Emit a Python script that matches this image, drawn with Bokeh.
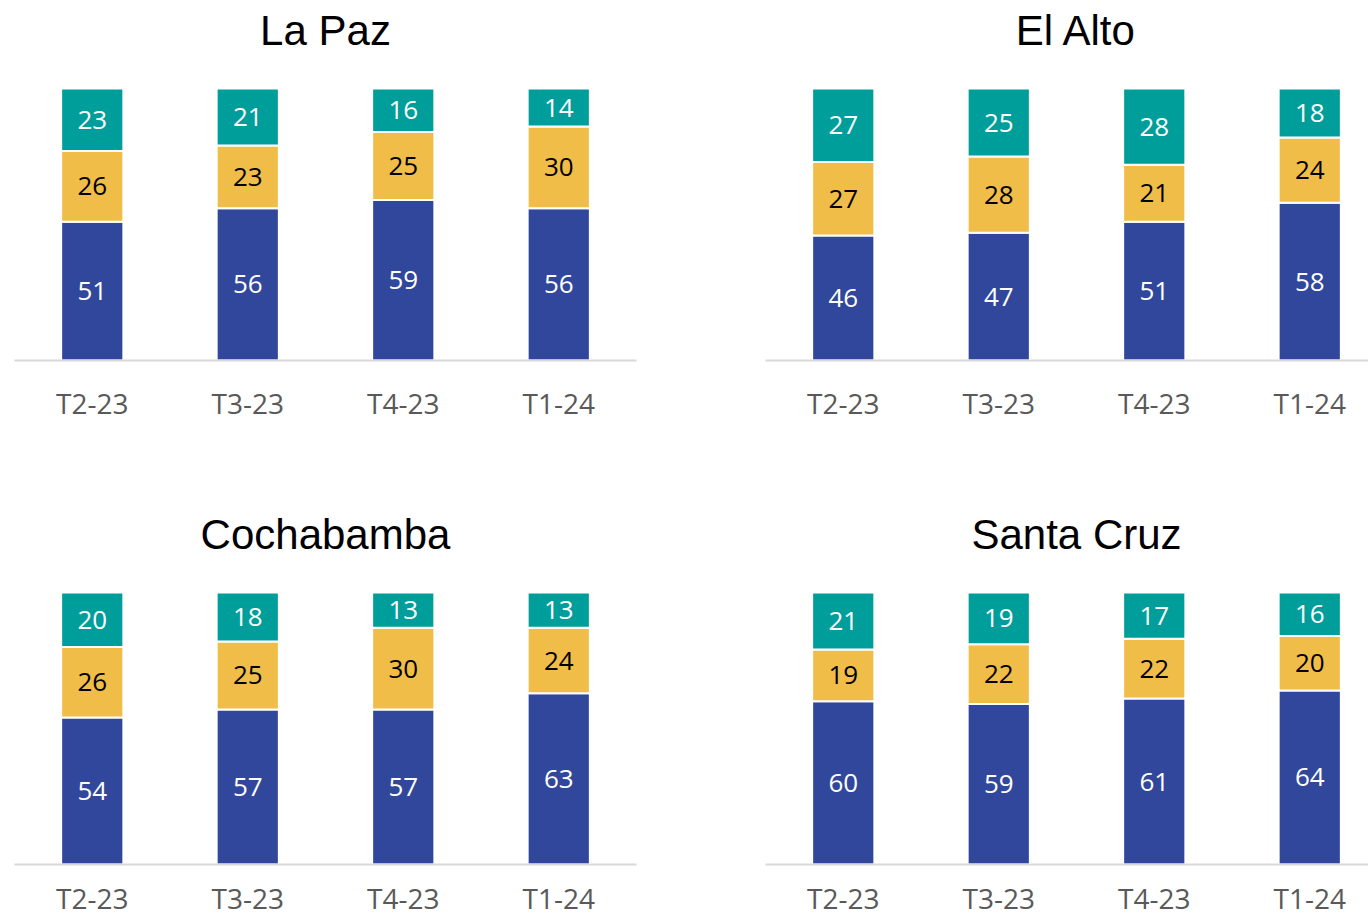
import numpy as np
from bokeh.plotting import figure
from bokeh.layouts import column, row
from bokeh.models import Range1d, ColumnDataSource, FixedTicker
from bokeh.core.properties import value
from bokeh.embed import file_html
from bokeh.resources import INLINE

periods = ["T2-23", "T3-23", "T4-23", "T1-24"]
cities = ["La Paz", "El Alto", "Cochabamba", "Santa Cruz"]

la_paz_blue = [51, 56, 59, 56]
la_paz_yellow = [26, 23, 25, 30]
la_paz_teal = [23, 21, 16, 14]

el_alto_blue = [46, 47, 51, 58]
el_alto_yellow = [27, 28, 21, 24]
el_alto_teal = [27, 25, 28, 18]

cochabamba_blue = [54, 57, 57, 63]
cochabamba_yellow = [26, 25, 30, 24]
cochabamba_teal = [20, 18, 13, 13]

santa_cruz_blue = [60, 59, 61, 64]
santa_cruz_yellow = [19, 22, 22, 20]
santa_cruz_teal = [21, 19, 17, 16]

BLUE = "#31479B"
YELLOW = "#F0BD48"
TEAL = "#009E9A"
PX_PER_CAT = 155.5
PX_PER_UNIT = 2.72
FRAME_H = 352


def make_panel(title, blue, yellow, teal, left_col, top_row):
    if left_col:
        width, bl, br = 688, 14, 52
    else:
        width, bl, br = 680, 77, 0
    frame_w = width - bl - br
    if top_row:
        height, bt, bb, standoff = 512, 8, 152, 23
    else:
        height, bt, bb, standoff = 407, 0, 55, 14
    x_end = -0.5 + frame_w / PX_PER_CAT
    y_end = FRAME_H / PX_PER_UNIT
    p = figure(width=width, height=height, output_backend="svg", toolbar_location=None,
               x_range=Range1d(-0.5, x_end), y_range=Range1d(0, y_end),
               min_border_left=bl, min_border_right=br, min_border_top=bt,
               min_border_bottom=bb, y_axis_location=None, tools="")
    p.outline_line_color = None
    p.grid.visible = False
    p.background_fill_color = "white"
    p.border_fill_color = "white"

    x = np.arange(len(periods))
    b = np.array(blue, dtype=float)
    yv = np.array(yellow, dtype=float)
    t = np.array(teal, dtype=float)
    segs = [
        (np.zeros_like(b), b, BLUE, "white", blue),
        (b, b + yv, YELLOW, "black", yellow),
        (b + yv, b + yv + t, TEAL, "white", teal),
    ]
    for bottom, top, col, tcol, vals in segs:
        src = ColumnDataSource(dict(x=x, bottom=bottom, top=top,
                                    mid=(bottom + top) / 2,
                                    lab=[str(v) for v in vals]))
        p.vbar(x="x", bottom="bottom", top="top", width=0.4, source=src,
               fill_color=col, line_color="white", line_width=2)
        p.text(x="x", y="mid", text="lab", source=src, text_align="center",
               text_baseline="middle", text_color=tcol,
               text_font=value("Open Sans"), text_font_size="26px")

    p.text(x=[1.5], y=[(FRAME_H - 22) / PX_PER_UNIT], text=[title],
           text_align="center", text_baseline="middle", text_color="black",
           text_font=value("Liberation Sans"), text_font_size="42px")

    ax = p.xaxis[0]
    ax.ticker = FixedTicker(ticks=list(range(len(periods))))
    ax.major_label_overrides = {i: s for i, s in enumerate(periods)}
    ax.axis_line_color = "#D9D9D9"
    ax.axis_line_width = 2
    ax.major_tick_line_color = None
    ax.minor_tick_line_color = None
    ax.major_tick_out = 0
    ax.major_tick_in = 0
    ax.major_label_standoff = standoff
    ax.major_label_text_font = "Open Sans"
    ax.major_label_text_font_size = "28px"
    ax.major_label_text_color = "#595959"
    return p


p1 = make_panel(cities[0], la_paz_blue, la_paz_yellow, la_paz_teal, True, True)
p2 = make_panel(cities[1], el_alto_blue, el_alto_yellow, el_alto_teal, False, True)
p3 = make_panel(cities[2], cochabamba_blue, cochabamba_yellow, cochabamba_teal, True, False)
p4 = make_panel(cities[3], santa_cruz_blue, santa_cruz_yellow, santa_cruz_teal, False, False)

layout = column(row(p1, p2), row(p3, p4))
open("out.html", "w").write(file_html(layout, INLINE))
